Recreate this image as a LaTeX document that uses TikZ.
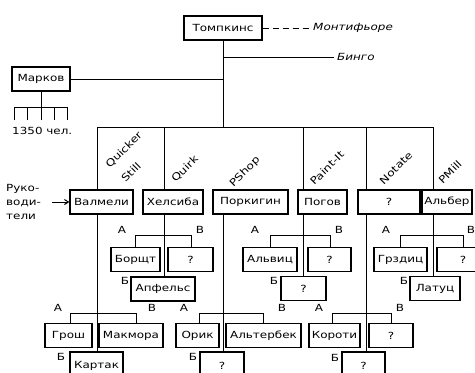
\documentclass[tikz,border=0pt]{standalone}
\usepackage{fontspec}
\setmainfont{DejaVu Sans}[FakeStretch=1.22]
\usetikzlibrary{arrows.meta}
\newcommand\bx[5]{\node[box, minimum width=#4] (#1) at (#2,#3) {#5};}
\newcommand\bxlow[5]{\node[box, minimum width=#4, minimum height=28] (#1) at (#2,#3) {#5};}
\begin{document}
\begin{tikzpicture}[x=1pt,y=-1pt,
  font=\fontsize{9.8}{11}\selectfont,
  box/.style={draw, line width=1.3pt, fill=white, inner sep=0pt, minimum height=24},
  ln/.style={line width=1pt},
  lab/.style={font=\fontsize{9.8}{11}\selectfont\itshape, inner sep=3pt},
  abc/.style={font=\fontsize{9.8}{11}\selectfont, inner sep=0pt},
  div/.style={font=\fontsize{10}{11}\selectfont, rotate=45, inner sep=0pt}]
\useasboundingbox (0,0) rectangle (475,373);
\clip (0,0) rectangle (475,373);

% top level
\bx{tomp}{223}{28}{78}{Томпкинс}
\bx{mark}{41}{79}{58}{Марков}
\node[lab, anchor=west] (mont) at (310,28) {Монтифьоре};
\node[lab, anchor=west] (bingo) at (334,57) {Бинго};
\node[abc, anchor=west] (chel) at (12,131) {1350 чел.};
\node[abc, anchor=west, align=left] (ruk) at (6,202) {Руко-\\[3pt]води-\\[3pt]тели};

% leaders
\bx{valm}{101.5}{202}{63}{Валмели}
\bx{hels}{173}{202}{60}{Хелсиба}
\bx{pork}{250.5}{202}{75}{Поркигин}
\bx{pog}{322.5}{202}{49}{Погов}
\bx{notl}{389}{202}{62}{?}
\bx{alb}{447}{202}{50}{Альбер}

% Quirk group
\bx{borsch}{135.5}{259.5}{49}{Борщт}
\bx{qb}{190.5}{259.5}{45}{?}
\bx{apf}{163}{289}{64}{Апфельс}
% Paint-It group
\bx{alv}{270}{259.5}{54}{Альвиц}
\bx{pb}{329.5}{259.5}{43}{?}
\bx{pbb}{303.5}{288.5}{45}{?}
% PMill group
\bx{grz}{400.5}{259.5}{53}{Грздиц}
\bx{mb}{463}{259.5}{52}{?}
\bx{lat}{435}{288.5}{50}{Латуц}
% Quicker Still group
\bx{grosh}{68.5}{335.5}{47}{Грош}
\bx{makm}{131}{335.5}{64}{Макмора}
\bxlow{kart}{96.5}{366}{53}{Картак}
% PShop group
\bx{orik}{197.5}{335.5}{43}{Орик}
\bx{alt}{263.5}{335.5}{75}{Альтербек}
\bxlow{sb}{222}{366}{44}{?}
% Notate group
\bx{kor}{334.5}{335.5}{51}{Короти}
\bx{nb}{391}{335.5}{44}{?}
\bxlow{nbb}{363.5}{366}{43}{?}

% division labels
\node[div] (dqs) at (124,150) {Quicker};
\node[div] (dqs2) at (131,172) {Still};
\node[div] (dqk) at (185,169) {Quirk};
\node[div] (dps) at (245,172) {PShop};
\node[div] (dpi) at (327,168) {Paint-It};
\node[div] (dnt) at (396,168) {Notate};
\node[div] (dpm) at (450,172) {PMill};

% connectors, top
\coordinate (qs) at (97,127);
\coordinate (qk) at (164,127);
\coordinate (ps) at (223,127);
\coordinate (pi) at (303,127);
\coordinate (nt) at (366,127);
\coordinate (pm) at (433,127);
\draw[ln] (qs) -- (pm);
\draw[ln] (tomp.south) -- (ps);
\draw[ln] (mark.east) -- (mark.east -| tomp.south);
\draw[ln, dash pattern=on 6pt off 4pt] (tomp.east) -- (mont.west);
\draw[ln] (tomp.south |- bingo.west) -- (bingo.west);
\draw[ln, -{Straight Barb[length=4pt,width=5pt]}] (52,202) -- (valm.west);

% Markov staff
\coordinate (mk) at (41,107);
\draw[ln] (mark.south) -- (mk);
\draw[ln] (14,120) -- (14,107) -- (67,107) -- (67,120);
\draw[ln] (27,107) -- (27,120);
\draw[ln] (mk) -- (41,120);
\draw[ln] (54,107) -- (54,120);

% division trunks
\draw[ln] (qs) -- (qs |- valm.north);
\draw[ln] (qs |- valm.south) -- (qs |- kart.north);
\draw[ln] (qk) -- (qk |- hels.north);
\draw[ln] (qk |- hels.south) -- (qk |- apf.north);
\draw[ln] (ps |- pork.south) -- (ps |- sb.north);
\draw[ln] (pi) -- (pi |- pog.north);
\draw[ln] (pi |- pog.south) -- (pi |- pbb.north);
\draw[ln] (nt) -- (nt |- notl.north);
\draw[ln] (nt |- notl.south) -- (nt |- nbb.north);
\draw[ln] (pm) -- (pm |- alb.north);
\draw[ln] (pm |- alb.south) -- (pm |- lat.north);

% bars
\coordinate (qkA) at (135,235); \coordinate (qkB) at (191,235);
\draw[ln] (qkA |- borsch.north) -- (qkA) -- (qkB) -- (qkB |- qb.north);
\coordinate (piA) at (270,235); \coordinate (piB) at (330,235);
\draw[ln] (piA |- alv.north) -- (piA) -- (piB) -- (piB |- pb.north);
\coordinate (pmA) at (400,235); \coordinate (pmB) at (463,235);
\draw[ln] (pmA |- grz.north) -- (pmA) -- (pmB) -- (pmB |- mb.north);
\coordinate (qsA) at (70,313); \coordinate (qsB) at (136,313);
\draw[ln] (qsA |- grosh.north) -- (qsA) -- (qsB) -- (qsB |- makm.north);
\coordinate (psA) at (199,313); \coordinate (psB) at (263,313);
\draw[ln] (psA |- orik.north) -- (psA) -- (psB) -- (psB |- alt.north);
\coordinate (ntA) at (332,313); \coordinate (ntB) at (391,313);
\draw[ln] (ntA |- kor.north) -- (ntA) -- (ntB) -- (ntB |- nb.north);

% A / B / V labels
\node[abc] at (122,230) {А}; \node[abc] at (200,230) {В}; \node[abc] at (125,281) {Б};
\node[abc] at (255,230) {А}; \node[abc] at (339,230) {В}; \node[abc] at (274,281) {Б};
\node[abc] at (386,230) {А}; \node[abc] at (471,230) {В}; \node[abc] at (404,281) {Б};
\node[abc] at (58,308) {А}; \node[abc] at (152,308) {В}; \node[abc] at (61,357) {Б};
\node[abc] at (184,308) {А}; \node[abc] at (282,308) {В}; \node[abc] at (193,357) {Б};
\node[abc] at (319,308) {А}; \node[abc] at (400,308) {В}; \node[abc] at (335,358) {Б};
\end{tikzpicture}
\end{document}
